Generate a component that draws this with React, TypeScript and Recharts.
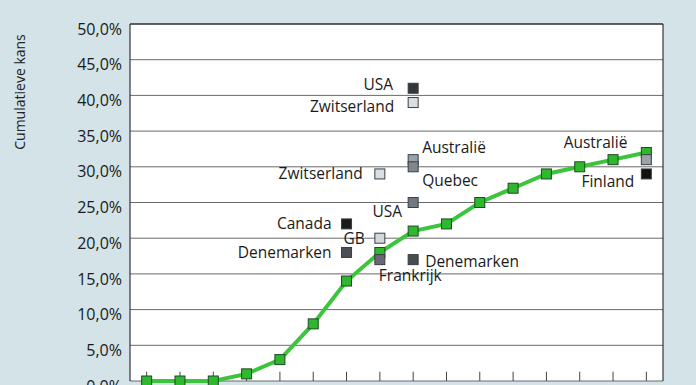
import React from "react";
import {
  ComposedChart,
  Line,
  Scatter,
  XAxis,
  YAxis,
  CartesianGrid,
  ReferenceLine,
} from "recharts";

// step index along the (cropped) x axis
const steps = [0, 1, 2, 3, 4, 5, 6, 7, 8, 9, 10, 11, 12, 13, 14, 15];
// cumulative chance in %, green curve
const cumulative = [0, 0, 0, 1, 3, 8, 14, 18, 21, 22, 25, 27, 29, 30, 31, 32];

// separate country markers
const markerNames = [
  "Canada",
  "Denemarken",
  "Zwitserland",
  "GB",
  "Frankrijk",
  "USA",
  "Zwitserland",
  "Australië",
  "Quebec",
  "USA",
  "Denemarken",
  "Australië",
  "Finland",
];
const markerSteps = [6, 6, 7, 7, 7, 8, 8, 8, 8, 8, 8, 15, 15];
const markerValues = [22, 18, 29, 20, 17, 41, 39, 31, 30, 25, 17, 31, 29];

const yTicks = [0, 5, 10, 15, 20, 25, 30, 35, 40, 45, 50];

// look of each marker + where its label sits
const markerFill = [
  "#1a1a1a", "#4b5054", "#d9dee2", "#d3d8dc", "#6a6874", "#33373a",
  "#d9dee2", "#9aa2a8", "#7f888e", "#717a82", "#474c50", "#9ca2a8", "#111111",
];
const labelDx = [-10, -10, -12, -10, -6, -15, -14, 4, 4, -6, 7, -14, -7];
const labelDy = [0, 0, 0, 0, 16, -4, 4, -12, 14, 9, 2, -17, 8];
const labelAnchor = [
  "end", "end", "end", "end", "start", "end", "end",
  "start", "start", "end", "start", "end", "end",
];

const lineData = steps.map((s, i) => ({ step: s, value: cumulative[i] }));
const markerData = markerNames.map((name, i) => ({
  idx: i,
  name,
  step: markerSteps[i],
  value: markerValues[i],
}));

const FONT = "'Open Sans', sans-serif";
const GREEN = "#3cc43c";

function fmtPct(v: number) {
  return v.toFixed(1).replace(".", ",") + "%";
}

function GreenDot(props: any) {
  const { cx, cy } = props;
  if (cx == null || cy == null) return null;
  return (
    <rect
      x={cx - 5}
      y={cy - 5}
      width={10}
      height={10}
      fill="#2eb82e"
      stroke="#1f4a22"
      strokeWidth={1}
    />
  );
}

function Marker(props: any) {
  const { cx, cy, payload } = props;
  const i = payload.idx;
  return (
    <g>
      <rect
        x={cx - 5}
        y={cy - 5}
        width={10}
        height={10}
        fill={markerFill[i]}
        stroke="#3a3f42"
        strokeWidth={1}
      />
      <text
        x={cx + labelDx[i] + (labelAnchor[i] === "end" ? -5 : 5)}
        y={cy + labelDy[i]}
        dy="0.35em"
        textAnchor={labelAnchor[i]}
        fontFamily={FONT}
        fontSize={15.5}
        fill="#1a1a1a"
      >
        {payload.name}
      </text>
    </g>
  );
}

function YTick(props: any) {
  const { x, y, payload } = props;
  return (
    <text
      x={x + 2}
      y={y + 5}
      dy="0.35em"
      textAnchor="end"
      fontFamily={FONT}
      fontSize={16}
      fill="#1a1a1a"
    >
      {fmtPct(payload.value)}
    </text>
  );
}

export default function App() {
  return (
    <div
      style={{
        position: "absolute",
        left: 0,
        top: 0,
        width: 696,
        height: 385,
        background: "#d3e3e8",
        overflow: "hidden",
      }}
    >
      <ComposedChart
        width={696}
        height={385}
        data={lineData}
        margin={{ top: 24, right: 33, bottom: 4, left: 0 }}
      >
        <CartesianGrid vertical={false} stroke="#6a6a6a" fill="#ffffff" />
        <XAxis
          dataKey="step"
          type="number"
          domain={[-0.5, 15.5]}
          ticks={steps}
          interval={0}
          height={0}
          tick={false}
          tickLine={false}
          axisLine={{ stroke: "#111" }}
        />
        <YAxis
          dataKey="value"
          type="number"
          domain={[0, 50]}
          ticks={yTicks}
          interval={0}
          width={130}
          tickLine={false}
          tickMargin={4}
          tick={<YTick />}
          axisLine={{ stroke: "#111" }}
          label={{
            content: () => (
              <text
                x={25}
                y={92}
                transform="rotate(-90 25 92)"
                textAnchor="middle"
                fontFamily={FONT}
                fontSize={14}
                fill="#222"
              >
                Cumulatieve kans
              </text>
            ),
          }}
        />
        {steps.map((s) => (
          <ReferenceLine
            key={s}
            segment={[
              { x: s, y: 0 },
              { x: s, y: 1.3 },
            ]}
            stroke="#444"
          />
        ))}
        <ReferenceLine y={50} stroke="#111" />
        <ReferenceLine x={15.5} stroke="#111" />
        <Line
          dataKey="value"
          stroke={GREEN}
          strokeWidth={4}
          dot={<GreenDot />}
          activeDot={false}
          isAnimationActive={false}
        />
        <Scatter
          data={markerData}
          dataKey="value"
          shape={<Marker />}
          isAnimationActive={false}
        />
      </ComposedChart>
    </div>
  );
}
